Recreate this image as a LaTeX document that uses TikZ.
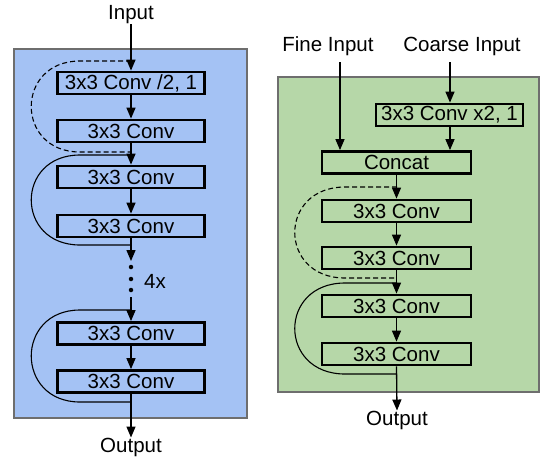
\documentclass[tikz,border=0pt]{standalone}
\usepackage{fontspec}
\setmainfont{Liberation Sans}
\usetikzlibrary{arrows.meta}
\definecolor{panelblue}{HTML}{A4C2F4}
\definecolor{panelgreen}{HTML}{B6D7A8}
\definecolor{panelborder}{HTML}{6E6E6E}
\begin{document}
\begin{tikzpicture}[x=1pt,y=-1pt,
  every node/.style={font=\fontsize{20.5}{22}\selectfont, inner sep=0pt},
  panel/.style={draw=panelborder, line width=2pt},
  convbox/.style={draw=black, line width=2.8pt, minimum width=147pt, minimum height=22pt},
  lbl/.style={},
  arr/.style={line width=1.3pt, -{Triangle[length=11pt,width=9pt]}},
  skip/.style={line width=1.1pt},
  dskip/.style={line width=1.1pt, dash pattern=on 5pt off 3pt},
  dotmark/.style={circle, fill=black, minimum size=4.5pt, inner sep=0pt}
]
\useasboundingbox (0,0) rectangle (556,461);
% panels
\path[panel, fill=panelblue] (14,49) rectangle (247,418);
\path[panel, fill=panelgreen] (278,77) rectangle (539,392);

% left column
\node[lbl] (in) at (131,15) {Input};
\node[convbox] (b1) at (131,83) {3x3 Conv /2, 1};
\node[convbox] (b2) at (131,131) {3x3 Conv};
\node[convbox] (b3) at (131,177) {3x3 Conv};
\node[convbox] (b4) at (131,226) {3x3 Conv};
\node[convbox] (b5) at (131,333.5) {3x3 Conv};
\node[convbox] (b6) at (131,381.5) {3x3 Conv};
\node[lbl] (out) at (131,447) {Output};
\coordinate (gapA) at (131,261);
\coordinate (gapB) at (131,297);
\node[dotmark] (d1) at (131,267) {};
\node[dotmark] (d2) at (131,279) {};
\node[dotmark] (d3) at (131,290) {};
\node[lbl] (rep) at (155,281) {4x};

\draw[arr] (in.south) -- (b1.north);
\draw[arr] (b1.south) -- (b2.north);
\draw[arr] (b2.south) -- (b3.north);
\draw[arr] (b3.south) -- (b4.north);
\draw[arr] (b4.south) -- (gapA);
\draw[arr] (gapB) -- (b5.north);
\draw[arr] (b5.south) -- (b6.north);
\draw[arr] (b6.south) -- (out.north);

\coordinate (ls1a) at (131,61);
\coordinate (ls1b) at (131,152);
\coordinate (ls2a) at (131,155);
\coordinate (ls2b) at (131,245);
\coordinate (ls3a) at (131,310);
\coordinate (ls3b) at (131,402);
\draw[dskip] (ls1a) -- (80,61) .. controls (15,61) and (15,152) .. (80,152) -- (ls1b);
\draw[skip] (ls2a) -- (80,155) .. controls (15,155) and (15,245) .. (80,245) -- (ls2b);
\draw[skip] (ls3a) -- (80,310) .. controls (15,310) and (15,402) .. (80,402) -- (ls3b);

% right column
\node[lbl] (fine) at (328,46) {Fine Input};
\node[lbl] (coarse) at (462,46) {Coarse Input};
\node[convbox] (up) at (449.5,115) {3x3 Conv x2, 1};
\node[convbox, minimum width=149pt] (cat) at (396.5,162.5) {Concat};
\node[convbox, minimum width=149pt] (r1) at (396.5,211) {3x3 Conv};
\node[convbox, minimum width=149pt] (r2) at (396.5,258) {3x3 Conv};
\node[convbox, minimum width=149pt] (r3) at (396.5,306) {3x3 Conv};
\node[convbox, minimum width=149pt] (r4) at (396.5,354) {3x3 Conv};
\node[lbl] (rout) at (397,420) {Output};

\coordinate (fineTop) at (340,62);
\coordinate (coarseTop) at (450,62);
\draw[arr] (fineTop) -- (fineTop |- cat.north);
\draw[arr] (coarseTop) -- (coarseTop |- up.north);
\draw[arr] (up.south -| coarseTop) -- (coarseTop |- cat.north);
\draw[arr] (cat.south) -- (r1.north);
\draw[arr] (r1.south) -- (r2.north);
\draw[arr] (r2.south) -- (r3.north);
\draw[arr] (r3.south) -- (r4.north);
\draw[arr] (r4.south) -- (rout.north);

\coordinate (rs1a) at (397,187);
\coordinate (rs1b) at (397,278);
\coordinate (rs2a) at (397,283);
\coordinate (rs2b) at (397,374);
\draw[dskip] (rs1a) -- (345,187) .. controls (278,187) and (278,278) .. (345,278) -- (rs1b);
\draw[skip] (rs2a) -- (345,283) .. controls (278,283) and (278,374) .. (345,374) -- (rs2b);
\end{tikzpicture}
\end{document}
